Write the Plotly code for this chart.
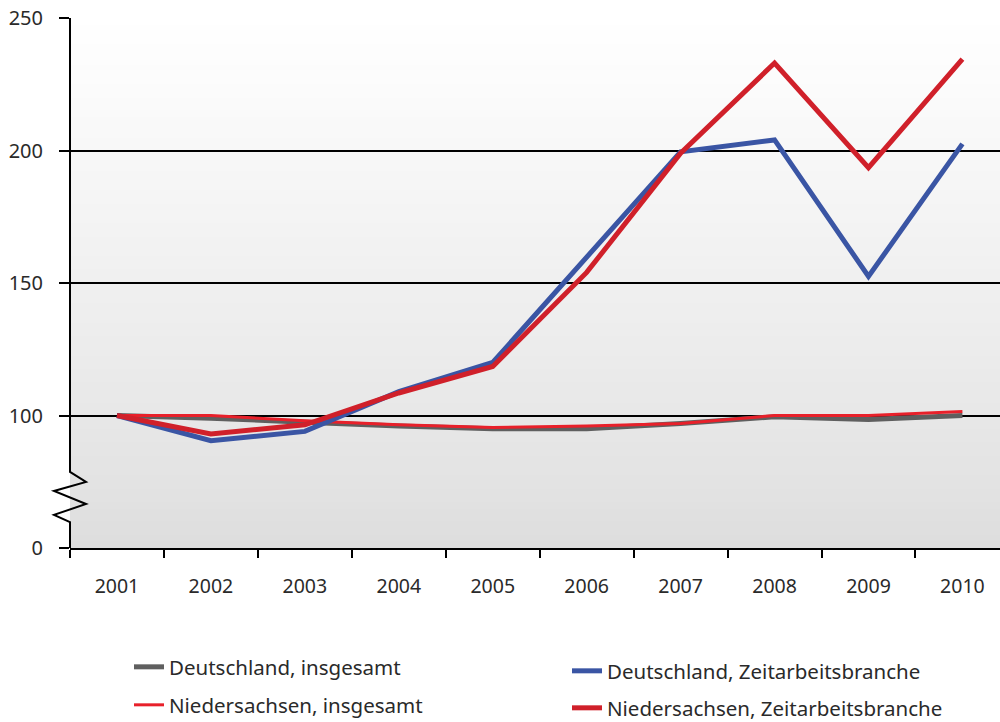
import plotly.graph_objects as go

years = ["2001", "2002", "2003", "2004", "2005", "2006", "2007", "2008", "2009", "2010"]
de_total = [100, 99, 97.5, 96, 95, 95, 97, 99.5, 98.5, 100]
nds_total = [100, 100, 98, 96.5, 95.5, 96, 97, 100, 100, 101.5]
de_zeit = [100, 90.5, 94, 109, 120, 160, 199.5, 204, 152.5, 202.5]
nds_zeit = [100, 93, 96.5, 108.5, 118.5, 154, 199, 233, 193.5, 234.5]

names = ["Deutschland, insgesamt", "Niedersachsen, insgesamt",
         "Deutschland, Zeitarbeitsbranche", "Niedersachsen, Zeitarbeitsbranche"]
colors = ["#5f5f5f", "#e8202a", "#3a55a4", "#d0202a"]
widths = [5, 3, 5, 5]
series = [de_total, nds_total, de_zeit, nds_zeit]
legend_ids = ["legend", "legend3", "legend2", "legend4"]

ytickvals = [50, 100, 150, 200, 250]
yticktext = ["0", "100", "150", "200", "250"]

fig = go.Figure()
for name, col, w, vals, lg in zip(names, colors, widths, series, legend_ids):
    fig.add_trace(go.Scatter(x=years, y=vals, mode="lines", name=name,
                             line=dict(color=col, width=w), legend=lg))

# gradient background
shapes = []
n = 80
for i in range(n):
    t0 = i / n
    t1 = (i + 1) / n
    tm = (t0 + t1) / 2
    g = int(round(221 + (255 - 221) * (tm ** 0.85)))
    shapes.append(dict(type="rect", xref="paper", yref="paper", x0=0, x1=1,
                       y0=t0, y1=t1 + 0.002, fillcolor=f"rgb({g},{g},{g})",
                       line=dict(width=0), layer="below"))

# y axis line with break symbol
shapes.append(dict(type="path", xref="paper", yref="y", layer="above",
                   path="M 0,250 L 0,78.7 L 0.0172,74.9 L -0.0172,71.5 L 0.0172,66.6 "
                        "L -0.0172,62.5 L 0,59.8 L 0,50",
                   line=dict(color="black", width=2)))

font_fam = "Noto Sans, Open Sans, sans-serif"
leg_common = dict(xref="container", yref="container", xanchor="left", yanchor="middle",
                  font=dict(size=20.5), bgcolor="rgba(0,0,0,0)")
fig.update_layout(
    width=1000, height=722,
    margin=dict(l=70, r=0, t=18, b=174, autoexpand=False),
    paper_bgcolor="white", plot_bgcolor="rgba(0,0,0,0)",
    shapes=shapes,
    font=dict(family=font_fam, color="#2a2a2a"),
    xaxis=dict(type="category", range=[-0.5, 9.4], tickson="boundaries",
               ticks="outside", ticklen=8, tickwidth=2, tickcolor="black",
               showline=True, linecolor="black", linewidth=2, showgrid=False,
               automargin=False,
               tickfont=dict(size=19.5, color="#2a2a2a"), ticklabelstandoff=20),
    yaxis=dict(range=[50, 250], tickvals=ytickvals, ticktext=yticktext,
               showgrid=True, gridcolor="black", gridwidth=1.5,
               showline=False, zeroline=False, automargin=False,
               ticks="outside", ticklen=10, tickwidth=2, tickcolor="black",
               tickfont=dict(size=20, color="#2a2a2a"), ticklabelstandoff=12),
    legend=dict(x=0.129, y=1 - 667 / 722, **leg_common),
    legend3=dict(x=0.129, y=1 - 705 / 722, **leg_common),
    legend2=dict(x=0.567, y=1 - 671 / 722, **leg_common),
    legend4=dict(x=0.567, y=1 - 708 / 722, **leg_common),
    showlegend=True,
)

fig.write_html("out.html", config={"displayModeBar": False},
               post_script="document.body.style.margin='0';document.body.style.overflow='hidden';")
